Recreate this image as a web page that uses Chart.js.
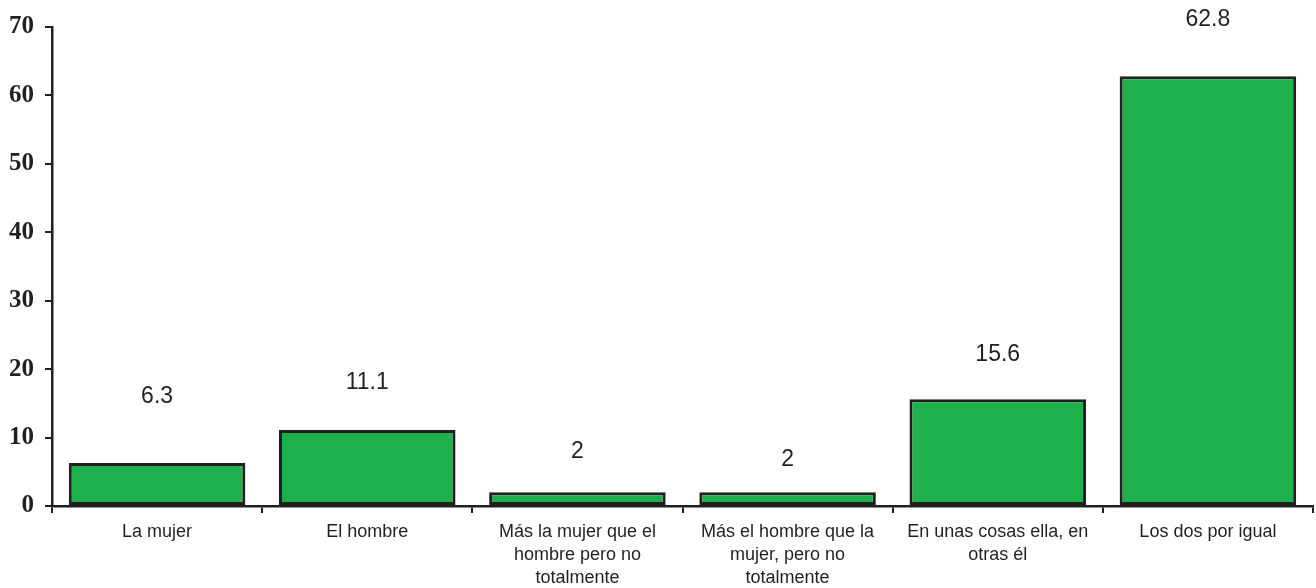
<!DOCTYPE html>
<html>
<head>
<meta charset="utf-8">
<script src="https://cdn.jsdelivr.net/npm/chart.js@4/dist/chart.umd.min.js"></script>
<style>
  html, body { margin: 0; padding: 0; background: #ffffff; }
  #wrap { width: 1316px; height: 588px; position: relative; }
</style>
</head>
<body>
<div id="wrap"><canvas id="c" width="1316" height="588"></canvas></div>
<script>
const categories = [
  ["La mujer"],
  ["El hombre"],
  ["Más la mujer que el", "hombre pero no", "totalmente"],
  ["Más el hombre que la", "mujer, pero no", "totalmente"],
  ["En unas cosas ella, en", "otras él"],
  ["Los dos por igual"]
];
const values = [6.3, 11.1, 2, 2, 15.6, 62.8];
const valueLabels = ["6.3", "11.1", "2", "2", "15.6", "62.8"];
const yMin = 0, yMax = 70, yStep = 10;

// vertical distance (px) of each value label centre above its bar top
const labelOffsets = [66, 47, 41, 33, 45, 57];

const ink = '#231f20';

const valueLabelPlugin = {
  id: 'valueLabels',
  afterDatasetsDraw(chart) {
    const ctx = chart.ctx;
    const meta = chart.getDatasetMeta(0);
    ctx.save();
    ctx.font = '23px "Liberation Sans", Arial, sans-serif';
    ctx.fillStyle = ink;
    ctx.textAlign = 'center';
    ctx.textBaseline = 'middle';
    meta.data.forEach((bar, i) => {
      ctx.fillText(valueLabels[i], bar.x, bar.y - labelOffsets[i]);
    });
    ctx.restore();
  }
};

new Chart(document.getElementById('c'), {
  type: 'bar',
  data: {
    labels: categories,
    datasets: [{
      data: values,
      backgroundColor: '#1db04d',
      borderColor: ink,
      borderWidth: 3,
      borderSkipped: false,
      barPercentage: 0.84,
      categoryPercentage: 1.0
    }]
  },
  options: {
    responsive: false,
    animation: false,
    layout: { padding: { top: 27, right: 3, left: 0, bottom: 0 } },
    plugins: {
      legend: { display: false },
      tooltip: { enabled: false }
    },
    scales: {
      x: {
        offset: true,
        grid: {
          offset: true,
          drawOnChartArea: false,
          drawTicks: true,
          tickLength: 7,
          color: ink,
          lineWidth: 2
        },
        border: { display: true, color: ink, width: 2.5 },
        ticks: {
          autoSkip: false,
          maxRotation: 0,
          minRotation: 0,
          padding: 8,
          color: ink,
          font: { family: '"Liberation Sans", Arial, sans-serif', size: 18, lineHeight: 1.27 }
        },
        afterFit(scale) { scale.height = 82; }
      },
      y: {
        min: yMin,
        max: yMax,
        grid: {
          drawOnChartArea: false,
          drawTicks: true,
          tickLength: 7,
          color: ink,
          lineWidth: 2
        },
        border: { display: true, color: ink, width: 2.5 },
        ticks: {
          stepSize: yStep,
          padding: 11,
          color: ink,
          font: { family: '"Liberation Serif", "Times New Roman", serif', size: 25, weight: 'bold' }
        },
        afterFit(scale) { scale.width = 52; }
      }
    }
  },
  plugins: [valueLabelPlugin]
});
</script>
</body>
</html>
